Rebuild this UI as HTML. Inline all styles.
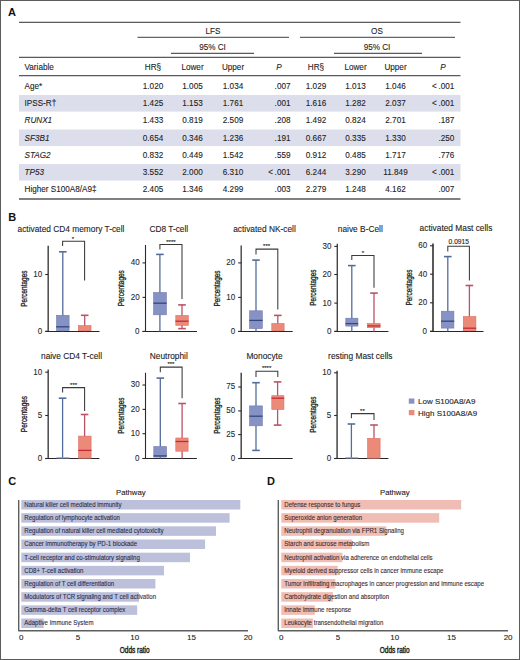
<!DOCTYPE html>
<html><head><meta charset="utf-8"><style>
html,body{margin:0;padding:0;background:#fff;}
svg{display:block;font-family:"Liberation Sans", sans-serif;}
</style></head><body>
<svg width="520" height="660" viewBox="0 0 520 660">
<rect x="0.5" y="0.5" width="519" height="659" fill="none" stroke="#5c5c5c" stroke-width="1"/>
<text x="8" y="16" font-size="11" text-anchor="start" fill="#111" font-weight="bold">A</text>
<line x1="19" y1="22.4" x2="460.5" y2="22.4" stroke="#5a5a5a" stroke-width="1.2"/>
<text transform="translate(213 33.6) scale(0.96 1)" font-size="8.5" text-anchor="middle" fill="#222"  stroke="#222" stroke-width="0.1">LFS</text>
<line x1="137.5" y1="37.4" x2="289" y2="37.4" stroke="#666" stroke-width="1.2"/>
<text transform="translate(377 33.6) scale(0.96 1)" font-size="8.5" text-anchor="middle" fill="#222"  stroke="#222" stroke-width="0.1">OS</text>
<line x1="300" y1="37.4" x2="455" y2="37.4" stroke="#666" stroke-width="1.2"/>
<text transform="translate(212.5 49.6) scale(0.96 1)" font-size="8.5" text-anchor="middle" fill="#222"  stroke="#222" stroke-width="0.1">95% CI</text>
<line x1="171" y1="53.4" x2="254" y2="53.4" stroke="#5a5a5a" stroke-width="1.2"/>
<text transform="translate(377 49.6) scale(0.96 1)" font-size="8.5" text-anchor="middle" fill="#222"  stroke="#222" stroke-width="0.1">95% CI</text>
<line x1="334" y1="53.4" x2="422" y2="53.4" stroke="#5a5a5a" stroke-width="1.2"/>
<line x1="19" y1="57.4" x2="460.5" y2="57.4" stroke="#5a5a5a" stroke-width="1.2"/>
<text transform="translate(24.5 69.8) scale(0.96 1)" font-size="8.5" text-anchor="start" fill="#222"  stroke="#222" stroke-width="0.1">Variable</text>
<text transform="translate(153 69.8) scale(0.96 1)" font-size="8.5" text-anchor="middle" fill="#222"  stroke="#222" stroke-width="0.1">HR§</text>
<text transform="translate(192.5 69.8) scale(0.96 1)" font-size="8.5" text-anchor="middle" fill="#222"  stroke="#222" stroke-width="0.1">Lower</text>
<text transform="translate(233 69.8) scale(0.96 1)" font-size="8.5" text-anchor="middle" fill="#222"  stroke="#222" stroke-width="0.1">Upper</text>
<text transform="translate(279 69.8) scale(0.96 1)" font-size="8.5" text-anchor="middle" fill="#222" font-style="italic" stroke="#222" stroke-width="0.1">P</text>
<text transform="translate(316 69.8) scale(0.96 1)" font-size="8.5" text-anchor="middle" fill="#222"  stroke="#222" stroke-width="0.1">HR§</text>
<text transform="translate(355.5 69.8) scale(0.96 1)" font-size="8.5" text-anchor="middle" fill="#222"  stroke="#222" stroke-width="0.1">Lower</text>
<text transform="translate(395.5 69.8) scale(0.96 1)" font-size="8.5" text-anchor="middle" fill="#222"  stroke="#222" stroke-width="0.1">Upper</text>
<text transform="translate(443 69.8) scale(0.96 1)" font-size="8.5" text-anchor="middle" fill="#222" font-style="italic" stroke="#222" stroke-width="0.1">P</text>
<line x1="19" y1="75.6" x2="460.5" y2="75.6" stroke="#5a5a5a" stroke-width="1.2"/>
<text transform="translate(24.5 88.95) scale(0.96 1)" font-size="8.5" text-anchor="start" fill="#222"  stroke="#222" stroke-width="0.1">Age*</text>
<text transform="translate(153 88.95) scale(0.96 1)" font-size="8.5" text-anchor="middle" fill="#222"  stroke="#222" stroke-width="0.1">1.020</text>
<text transform="translate(192.5 88.95) scale(0.96 1)" font-size="8.5" text-anchor="middle" fill="#222"  stroke="#222" stroke-width="0.1">1.005</text>
<text transform="translate(233 88.95) scale(0.96 1)" font-size="8.5" text-anchor="middle" fill="#222"  stroke="#222" stroke-width="0.1">1.034</text>
<text transform="translate(290.5 88.95) scale(0.96 1)" font-size="8.5" text-anchor="end" fill="#222"  stroke="#222" stroke-width="0.1">.007</text>
<text transform="translate(316 88.95) scale(0.96 1)" font-size="8.5" text-anchor="middle" fill="#222"  stroke="#222" stroke-width="0.1">1.029</text>
<text transform="translate(355.5 88.95) scale(0.96 1)" font-size="8.5" text-anchor="middle" fill="#222"  stroke="#222" stroke-width="0.1">1.013</text>
<text transform="translate(395.5 88.95) scale(0.96 1)" font-size="8.5" text-anchor="middle" fill="#222"  stroke="#222" stroke-width="0.1">1.046</text>
<text transform="translate(454.3 88.95) scale(0.96 1)" font-size="8.5" text-anchor="end" fill="#222"  stroke="#222" stroke-width="0.1">&lt; .001</text>
<rect x="19" y="95.0" width="441.5" height="16.6" fill="#dddeec"/>
<text transform="translate(24.5 106.2) scale(0.96 1)" font-size="8.5" text-anchor="start" fill="#222"  stroke="#222" stroke-width="0.1">IPSS-R†</text>
<text transform="translate(153 106.2) scale(0.96 1)" font-size="8.5" text-anchor="middle" fill="#222"  stroke="#222" stroke-width="0.1">1.425</text>
<text transform="translate(192.5 106.2) scale(0.96 1)" font-size="8.5" text-anchor="middle" fill="#222"  stroke="#222" stroke-width="0.1">1.153</text>
<text transform="translate(233 106.2) scale(0.96 1)" font-size="8.5" text-anchor="middle" fill="#222"  stroke="#222" stroke-width="0.1">1.761</text>
<text transform="translate(290.5 106.2) scale(0.96 1)" font-size="8.5" text-anchor="end" fill="#222"  stroke="#222" stroke-width="0.1">.001</text>
<text transform="translate(316 106.2) scale(0.96 1)" font-size="8.5" text-anchor="middle" fill="#222"  stroke="#222" stroke-width="0.1">1.616</text>
<text transform="translate(355.5 106.2) scale(0.96 1)" font-size="8.5" text-anchor="middle" fill="#222"  stroke="#222" stroke-width="0.1">1.282</text>
<text transform="translate(395.5 106.2) scale(0.96 1)" font-size="8.5" text-anchor="middle" fill="#222"  stroke="#222" stroke-width="0.1">2.037</text>
<text transform="translate(454.3 106.2) scale(0.96 1)" font-size="8.5" text-anchor="end" fill="#222"  stroke="#222" stroke-width="0.1">&lt; .001</text>
<text transform="translate(24.5 123.45) scale(0.96 1)" font-size="8.5" text-anchor="start" fill="#222" font-style="italic" stroke="#222" stroke-width="0.1">RUNX1</text>
<text transform="translate(153 123.45) scale(0.96 1)" font-size="8.5" text-anchor="middle" fill="#222"  stroke="#222" stroke-width="0.1">1.433</text>
<text transform="translate(192.5 123.45) scale(0.96 1)" font-size="8.5" text-anchor="middle" fill="#222"  stroke="#222" stroke-width="0.1">0.819</text>
<text transform="translate(233 123.45) scale(0.96 1)" font-size="8.5" text-anchor="middle" fill="#222"  stroke="#222" stroke-width="0.1">2.509</text>
<text transform="translate(290.5 123.45) scale(0.96 1)" font-size="8.5" text-anchor="end" fill="#222"  stroke="#222" stroke-width="0.1">.208</text>
<text transform="translate(316 123.45) scale(0.96 1)" font-size="8.5" text-anchor="middle" fill="#222"  stroke="#222" stroke-width="0.1">1.492</text>
<text transform="translate(355.5 123.45) scale(0.96 1)" font-size="8.5" text-anchor="middle" fill="#222"  stroke="#222" stroke-width="0.1">0.824</text>
<text transform="translate(395.5 123.45) scale(0.96 1)" font-size="8.5" text-anchor="middle" fill="#222"  stroke="#222" stroke-width="0.1">2.701</text>
<text transform="translate(454.3 123.45) scale(0.96 1)" font-size="8.5" text-anchor="end" fill="#222"  stroke="#222" stroke-width="0.1">.187</text>
<rect x="19" y="129.5" width="441.5" height="16.6" fill="#dddeec"/>
<text transform="translate(24.5 140.7) scale(0.96 1)" font-size="8.5" text-anchor="start" fill="#222" font-style="italic" stroke="#222" stroke-width="0.1">SF3B1</text>
<text transform="translate(153 140.7) scale(0.96 1)" font-size="8.5" text-anchor="middle" fill="#222"  stroke="#222" stroke-width="0.1">0.654</text>
<text transform="translate(192.5 140.7) scale(0.96 1)" font-size="8.5" text-anchor="middle" fill="#222"  stroke="#222" stroke-width="0.1">0.346</text>
<text transform="translate(233 140.7) scale(0.96 1)" font-size="8.5" text-anchor="middle" fill="#222"  stroke="#222" stroke-width="0.1">1.236</text>
<text transform="translate(290.5 140.7) scale(0.96 1)" font-size="8.5" text-anchor="end" fill="#222"  stroke="#222" stroke-width="0.1">.191</text>
<text transform="translate(316 140.7) scale(0.96 1)" font-size="8.5" text-anchor="middle" fill="#222"  stroke="#222" stroke-width="0.1">0.667</text>
<text transform="translate(355.5 140.7) scale(0.96 1)" font-size="8.5" text-anchor="middle" fill="#222"  stroke="#222" stroke-width="0.1">0.335</text>
<text transform="translate(395.5 140.7) scale(0.96 1)" font-size="8.5" text-anchor="middle" fill="#222"  stroke="#222" stroke-width="0.1">1.330</text>
<text transform="translate(454.3 140.7) scale(0.96 1)" font-size="8.5" text-anchor="end" fill="#222"  stroke="#222" stroke-width="0.1">.250</text>
<text transform="translate(24.5 157.95) scale(0.96 1)" font-size="8.5" text-anchor="start" fill="#222" font-style="italic" stroke="#222" stroke-width="0.1">STAG2</text>
<text transform="translate(153 157.95) scale(0.96 1)" font-size="8.5" text-anchor="middle" fill="#222"  stroke="#222" stroke-width="0.1">0.832</text>
<text transform="translate(192.5 157.95) scale(0.96 1)" font-size="8.5" text-anchor="middle" fill="#222"  stroke="#222" stroke-width="0.1">0.449</text>
<text transform="translate(233 157.95) scale(0.96 1)" font-size="8.5" text-anchor="middle" fill="#222"  stroke="#222" stroke-width="0.1">1.542</text>
<text transform="translate(290.5 157.95) scale(0.96 1)" font-size="8.5" text-anchor="end" fill="#222"  stroke="#222" stroke-width="0.1">.559</text>
<text transform="translate(316 157.95) scale(0.96 1)" font-size="8.5" text-anchor="middle" fill="#222"  stroke="#222" stroke-width="0.1">0.912</text>
<text transform="translate(355.5 157.95) scale(0.96 1)" font-size="8.5" text-anchor="middle" fill="#222"  stroke="#222" stroke-width="0.1">0.485</text>
<text transform="translate(395.5 157.95) scale(0.96 1)" font-size="8.5" text-anchor="middle" fill="#222"  stroke="#222" stroke-width="0.1">1.717</text>
<text transform="translate(454.3 157.95) scale(0.96 1)" font-size="8.5" text-anchor="end" fill="#222"  stroke="#222" stroke-width="0.1">.776</text>
<rect x="19" y="164.0" width="441.5" height="16.6" fill="#dddeec"/>
<text transform="translate(24.5 175.2) scale(0.96 1)" font-size="8.5" text-anchor="start" fill="#222" font-style="italic" stroke="#222" stroke-width="0.1">TP53</text>
<text transform="translate(153 175.2) scale(0.96 1)" font-size="8.5" text-anchor="middle" fill="#222"  stroke="#222" stroke-width="0.1">3.552</text>
<text transform="translate(192.5 175.2) scale(0.96 1)" font-size="8.5" text-anchor="middle" fill="#222"  stroke="#222" stroke-width="0.1">2.000</text>
<text transform="translate(233 175.2) scale(0.96 1)" font-size="8.5" text-anchor="middle" fill="#222"  stroke="#222" stroke-width="0.1">6.310</text>
<text transform="translate(290.5 175.2) scale(0.96 1)" font-size="8.5" text-anchor="end" fill="#222"  stroke="#222" stroke-width="0.1">&lt; .001</text>
<text transform="translate(316 175.2) scale(0.96 1)" font-size="8.5" text-anchor="middle" fill="#222"  stroke="#222" stroke-width="0.1">6.244</text>
<text transform="translate(355.5 175.2) scale(0.96 1)" font-size="8.5" text-anchor="middle" fill="#222"  stroke="#222" stroke-width="0.1">3.290</text>
<text transform="translate(395.5 175.2) scale(0.96 1)" font-size="8.5" text-anchor="middle" fill="#222"  stroke="#222" stroke-width="0.1">11.849</text>
<text transform="translate(454.3 175.2) scale(0.96 1)" font-size="8.5" text-anchor="end" fill="#222"  stroke="#222" stroke-width="0.1">&lt; .001</text>
<text transform="translate(24.5 192.45) scale(0.96 1)" font-size="8.5" text-anchor="start" fill="#222"  stroke="#222" stroke-width="0.1">Higher S100A8/A9‡</text>
<text transform="translate(153 192.45) scale(0.96 1)" font-size="8.5" text-anchor="middle" fill="#222"  stroke="#222" stroke-width="0.1">2.405</text>
<text transform="translate(192.5 192.45) scale(0.96 1)" font-size="8.5" text-anchor="middle" fill="#222"  stroke="#222" stroke-width="0.1">1.346</text>
<text transform="translate(233 192.45) scale(0.96 1)" font-size="8.5" text-anchor="middle" fill="#222"  stroke="#222" stroke-width="0.1">4.299</text>
<text transform="translate(290.5 192.45) scale(0.96 1)" font-size="8.5" text-anchor="end" fill="#222"  stroke="#222" stroke-width="0.1">.003</text>
<text transform="translate(316 192.45) scale(0.96 1)" font-size="8.5" text-anchor="middle" fill="#222"  stroke="#222" stroke-width="0.1">2.279</text>
<text transform="translate(355.5 192.45) scale(0.96 1)" font-size="8.5" text-anchor="middle" fill="#222"  stroke="#222" stroke-width="0.1">1.248</text>
<text transform="translate(395.5 192.45) scale(0.96 1)" font-size="8.5" text-anchor="middle" fill="#222"  stroke="#222" stroke-width="0.1">4.162</text>
<text transform="translate(454.3 192.45) scale(0.96 1)" font-size="8.5" text-anchor="end" fill="#222"  stroke="#222" stroke-width="0.1">.007</text>
<line x1="19" y1="199.0" x2="460.5" y2="199.0" stroke="#808080" stroke-width="2"/>
<text x="8.2" y="220.6" font-size="11" text-anchor="start" fill="#111" font-weight="bold">B</text>
<text transform="translate(71 231.8) scale(0.97 1)" font-size="8.6" text-anchor="middle" fill="#222"  stroke="#222" stroke-width="0.1">activated CD4 memory T-cell</text>
<text transform="translate(26.700000000000003,288.625) rotate(-90) scale(0.76,1)" x="0" y="0" font-size="8.5" text-anchor="middle" fill="#222" stroke="#222" stroke-width="0.3">Percentages</text>
<line x1="48.2" y1="245.75" x2="48.2" y2="332.0" stroke="#4a4a4a" stroke-width="1.5"/>
<line x1="45.2" y1="331.5" x2="99.5" y2="331.5" stroke="#262626" stroke-width="1.15"/>
<line x1="45.2" y1="331.3" x2="48.2" y2="331.3" stroke="#2a2a2a" stroke-width="1.1"/>
<text transform="translate(42.300000000000004 333.75) scale(0.97 1)" font-size="8.3" text-anchor="end" fill="#2a2a2a"  stroke="#2a2a2a" stroke-width="0.1">0</text>
<line x1="45.2" y1="274.5" x2="48.2" y2="274.5" stroke="#2a2a2a" stroke-width="1.1"/>
<text transform="translate(42.300000000000004 276.95) scale(0.97 1)" font-size="8.3" text-anchor="end" fill="#2a2a2a"  stroke="#2a2a2a" stroke-width="0.1">10</text>
<line x1="62.8" y1="251.8" x2="62.8" y2="331.5" stroke="#546c9c" stroke-width="1.3"/>
<line x1="59.0" y1="251.8" x2="66.6" y2="251.8" stroke="#546c9c" stroke-width="1.6"/>
<rect x="56.5" y="315.3" width="12.600000000000003" height="15.4" fill="#8692c4" stroke="#6f7cb0" stroke-width="0.6"/>
<line x1="56.2" y1="326.8" x2="69.4" y2="326.8" stroke="#34487e" stroke-width="1.3"/>
<line x1="84.7" y1="315.3" x2="84.7" y2="331.5" stroke="#bb5366" stroke-width="1.3"/>
<line x1="80.9" y1="315.3" x2="88.5" y2="315.3" stroke="#bb5366" stroke-width="1.6"/>
<rect x="78.3" y="325.6" width="12.699999999999998" height="5.099999999999989" fill="#ec8a79" stroke="#dc6e60" stroke-width="0.6"/>
<polyline points="62.6,246 62.6,241.25 84.6,241.25 84.6,280.5" fill="none" stroke="#3a3a3a" stroke-width="1.05"/>
<text x="73" y="240.5" font-size="6" text-anchor="middle" fill="#222"  stroke="#222" stroke-width="0.1">*</text>
<text transform="translate(168.8 231.8) scale(0.97 1)" font-size="8.6" text-anchor="middle" fill="#222"  stroke="#222" stroke-width="0.1">CD8 T-cell</text>
<text transform="translate(124.0,288.25) rotate(-90) scale(0.76,1)" x="0" y="0" font-size="8.5" text-anchor="middle" fill="#222" stroke="#222" stroke-width="0.3">Percentages</text>
<line x1="145.5" y1="245" x2="145.5" y2="332.0" stroke="#2a2a2a" stroke-width="1.1"/>
<line x1="142.5" y1="331.5" x2="197" y2="331.5" stroke="#262626" stroke-width="1.15"/>
<line x1="142.5" y1="331.4" x2="145.5" y2="331.4" stroke="#2a2a2a" stroke-width="1.1"/>
<text transform="translate(139.6 333.84999999999997) scale(0.97 1)" font-size="8.3" text-anchor="end" fill="#2a2a2a"  stroke="#2a2a2a" stroke-width="0.1">0</text>
<line x1="142.5" y1="297.4" x2="145.5" y2="297.4" stroke="#2a2a2a" stroke-width="1.1"/>
<text transform="translate(139.6 299.84999999999997) scale(0.97 1)" font-size="8.3" text-anchor="end" fill="#2a2a2a"  stroke="#2a2a2a" stroke-width="0.1">20</text>
<line x1="142.5" y1="262.9" x2="145.5" y2="262.9" stroke="#2a2a2a" stroke-width="1.1"/>
<text transform="translate(139.6 265.34999999999997) scale(0.97 1)" font-size="8.3" text-anchor="end" fill="#2a2a2a"  stroke="#2a2a2a" stroke-width="0.1">40</text>
<line x1="159.9" y1="254.4" x2="159.9" y2="331.5" stroke="#546c9c" stroke-width="1.3"/>
<line x1="156.1" y1="254.4" x2="163.70000000000002" y2="254.4" stroke="#546c9c" stroke-width="1.6"/>
<rect x="153.60000000000002" y="292.5" width="12.799999999999978" height="22.300000000000033" fill="#8692c4" stroke="#6f7cb0" stroke-width="0.6"/>
<line x1="153.3" y1="303.2" x2="166.7" y2="303.2" stroke="#34487e" stroke-width="1.3"/>
<line x1="182" y1="304.9" x2="182" y2="328.6" stroke="#bb5366" stroke-width="1.3"/>
<line x1="178.2" y1="304.9" x2="185.8" y2="304.9" stroke="#bb5366" stroke-width="1.6"/>
<line x1="178.2" y1="328.6" x2="185.8" y2="328.6" stroke="#bb5366" stroke-width="1.6"/>
<rect x="175.8" y="315.5" width="12.499999999999995" height="9.800000000000034" fill="#ec8a79" stroke="#dc6e60" stroke-width="0.6"/>
<line x1="175.5" y1="321.2" x2="188.6" y2="321.2" stroke="#c62a36" stroke-width="1.3"/>
<polyline points="159.9,249.6 159.9,244.5 182,244.5 182,299" fill="none" stroke="#3a3a3a" stroke-width="1.05"/>
<text x="170.9" y="243.8" font-size="6" text-anchor="middle" fill="#222"  stroke="#222" stroke-width="0.1">****</text>
<text transform="translate(264.5 231.8) scale(0.97 1)" font-size="8.6" text-anchor="middle" fill="#222"  stroke="#222" stroke-width="0.1">activated NK-cell</text>
<text transform="translate(219.7,288.5) rotate(-90) scale(0.76,1)" x="0" y="0" font-size="8.5" text-anchor="middle" fill="#222" stroke="#222" stroke-width="0.3">Percentages</text>
<line x1="241.2" y1="245.5" x2="241.2" y2="332.0" stroke="#444" stroke-width="1.4"/>
<line x1="238.2" y1="331.5" x2="292.7" y2="331.5" stroke="#262626" stroke-width="1.15"/>
<line x1="238.2" y1="331.4" x2="241.2" y2="331.4" stroke="#2a2a2a" stroke-width="1.1"/>
<text transform="translate(235.29999999999998 333.84999999999997) scale(0.97 1)" font-size="8.3" text-anchor="end" fill="#2a2a2a"  stroke="#2a2a2a" stroke-width="0.1">0</text>
<line x1="238.2" y1="297.4" x2="241.2" y2="297.4" stroke="#2a2a2a" stroke-width="1.1"/>
<text transform="translate(235.29999999999998 299.84999999999997) scale(0.97 1)" font-size="8.3" text-anchor="end" fill="#2a2a2a"  stroke="#2a2a2a" stroke-width="0.1">10</text>
<line x1="238.2" y1="262.9" x2="241.2" y2="262.9" stroke="#2a2a2a" stroke-width="1.1"/>
<text transform="translate(235.29999999999998 265.34999999999997) scale(0.97 1)" font-size="8.3" text-anchor="end" fill="#2a2a2a"  stroke="#2a2a2a" stroke-width="0.1">20</text>
<line x1="256" y1="260.1" x2="256" y2="331.5" stroke="#546c9c" stroke-width="1.3"/>
<line x1="252.2" y1="260.1" x2="259.8" y2="260.1" stroke="#546c9c" stroke-width="1.6"/>
<rect x="249.60000000000002" y="310.8" width="12.700000000000012" height="17.799999999999976" fill="#8692c4" stroke="#6f7cb0" stroke-width="0.6"/>
<line x1="249.3" y1="320.4" x2="262.6" y2="320.4" stroke="#34487e" stroke-width="1.3"/>
<line x1="277.8" y1="315.4" x2="277.8" y2="331.5" stroke="#bb5366" stroke-width="1.3"/>
<line x1="274.0" y1="315.4" x2="281.6" y2="315.4" stroke="#bb5366" stroke-width="1.6"/>
<rect x="271.8" y="323.5" width="12.299999999999978" height="7.200000000000012" fill="#ec8a79" stroke="#dc6e60" stroke-width="0.6"/>
<polyline points="256,254.4 256,249.1 277.8,249.1 277.8,309.4" fill="none" stroke="#3a3a3a" stroke-width="1.05"/>
<text x="266.6" y="248.0" font-size="6" text-anchor="middle" fill="#222"  stroke="#222" stroke-width="0.1">***</text>
<text transform="translate(360.3 231.8) scale(0.97 1)" font-size="8.6" text-anchor="middle" fill="#222"  stroke="#222" stroke-width="0.1">naive B-Cell</text>
<text transform="translate(315.8,287.65) rotate(-90) scale(0.76,1)" x="0" y="0" font-size="8.5" text-anchor="middle" fill="#222" stroke="#222" stroke-width="0.3">Percentages</text>
<line x1="337.3" y1="243.8" x2="337.3" y2="332.0" stroke="#444" stroke-width="1.4"/>
<line x1="334.3" y1="331.5" x2="388.4" y2="331.5" stroke="#262626" stroke-width="1.15"/>
<line x1="334.3" y1="331.3" x2="337.3" y2="331.3" stroke="#2a2a2a" stroke-width="1.1"/>
<text transform="translate(331.40000000000003 333.75) scale(0.97 1)" font-size="8.3" text-anchor="end" fill="#2a2a2a"  stroke="#2a2a2a" stroke-width="0.1">0</text>
<line x1="334.3" y1="303.1" x2="337.3" y2="303.1" stroke="#2a2a2a" stroke-width="1.1"/>
<text transform="translate(331.40000000000003 305.55) scale(0.97 1)" font-size="8.3" text-anchor="end" fill="#2a2a2a"  stroke="#2a2a2a" stroke-width="0.1">10</text>
<line x1="334.3" y1="274.5" x2="337.3" y2="274.5" stroke="#2a2a2a" stroke-width="1.1"/>
<text transform="translate(331.40000000000003 276.95) scale(0.97 1)" font-size="8.3" text-anchor="end" fill="#2a2a2a"  stroke="#2a2a2a" stroke-width="0.1">20</text>
<line x1="334.3" y1="246.4" x2="337.3" y2="246.4" stroke="#2a2a2a" stroke-width="1.1"/>
<text transform="translate(331.40000000000003 248.85) scale(0.97 1)" font-size="8.3" text-anchor="end" fill="#2a2a2a"  stroke="#2a2a2a" stroke-width="0.1">30</text>
<line x1="351.8" y1="265.6" x2="351.8" y2="331.5" stroke="#546c9c" stroke-width="1.3"/>
<line x1="348.0" y1="265.6" x2="355.6" y2="265.6" stroke="#546c9c" stroke-width="1.6"/>
<rect x="345.8" y="318.2" width="12.099999999999989" height="7.9" fill="#8692c4" stroke="#6f7cb0" stroke-width="0.6"/>
<line x1="345.5" y1="323.6" x2="358.2" y2="323.6" stroke="#34487e" stroke-width="1.3"/>
<line x1="374" y1="293.1" x2="374" y2="331.5" stroke="#bb5366" stroke-width="1.3"/>
<line x1="370.2" y1="293.1" x2="377.8" y2="293.1" stroke="#bb5366" stroke-width="1.6"/>
<rect x="367.6" y="323.5" width="12.499999999999966" height="4.200000000000012" fill="#ec8a79" stroke="#dc6e60" stroke-width="0.6"/>
<line x1="367.3" y1="325.9" x2="380.4" y2="325.9" stroke="#c62a36" stroke-width="1.3"/>
<polyline points="351.8,260 351.8,255.5 374,255.5 374,287.8" fill="none" stroke="#3a3a3a" stroke-width="1.05"/>
<text x="362.8" y="254.9" font-size="6" text-anchor="middle" fill="#222"  stroke="#222" stroke-width="0.1">*</text>
<text transform="translate(456 231.3) scale(0.97 1)" font-size="8.6" text-anchor="middle" fill="#222"  stroke="#222" stroke-width="0.1">activated Mast cells</text>
<text transform="translate(411.5,287.5) rotate(-90) scale(0.76,1)" x="0" y="0" font-size="8.5" text-anchor="middle" fill="#222" stroke="#222" stroke-width="0.3">Percentages</text>
<line x1="433.0" y1="243.5" x2="433.0" y2="332.0" stroke="#5a5a5a" stroke-width="2.0"/>
<line x1="430.0" y1="331.5" x2="483.5" y2="331.5" stroke="#262626" stroke-width="1.15"/>
<line x1="430.0" y1="331.2" x2="433.0" y2="331.2" stroke="#2a2a2a" stroke-width="1.1"/>
<text transform="translate(427.1 333.65) scale(0.97 1)" font-size="8.3" text-anchor="end" fill="#2a2a2a"  stroke="#2a2a2a" stroke-width="0.1">0</text>
<line x1="430.0" y1="302.8" x2="433.0" y2="302.8" stroke="#2a2a2a" stroke-width="1.1"/>
<text transform="translate(427.1 305.25) scale(0.97 1)" font-size="8.3" text-anchor="end" fill="#2a2a2a"  stroke="#2a2a2a" stroke-width="0.1">20</text>
<line x1="430.0" y1="274.2" x2="433.0" y2="274.2" stroke="#2a2a2a" stroke-width="1.1"/>
<text transform="translate(427.1 276.65) scale(0.97 1)" font-size="8.3" text-anchor="end" fill="#2a2a2a"  stroke="#2a2a2a" stroke-width="0.1">40</text>
<line x1="430.0" y1="245.8" x2="433.0" y2="245.8" stroke="#2a2a2a" stroke-width="1.1"/>
<text transform="translate(427.1 248.25) scale(0.97 1)" font-size="8.3" text-anchor="end" fill="#2a2a2a"  stroke="#2a2a2a" stroke-width="0.1">60</text>
<line x1="447.8" y1="256.6" x2="447.8" y2="331.5" stroke="#546c9c" stroke-width="1.3"/>
<line x1="444.0" y1="256.6" x2="451.6" y2="256.6" stroke="#546c9c" stroke-width="1.6"/>
<rect x="441.3" y="311.2" width="12.599999999999989" height="16.9" fill="#8692c4" stroke="#6f7cb0" stroke-width="0.6"/>
<line x1="441" y1="321.2" x2="454.2" y2="321.2" stroke="#34487e" stroke-width="1.3"/>
<line x1="469.4" y1="285.5" x2="469.4" y2="331.5" stroke="#bb5366" stroke-width="1.3"/>
<line x1="465.59999999999997" y1="285.5" x2="473.2" y2="285.5" stroke="#bb5366" stroke-width="1.6"/>
<rect x="463.3" y="316.5" width="12.599999999999989" height="14.200000000000012" fill="#ec8a79" stroke="#dc6e60" stroke-width="0.6"/>
<line x1="463" y1="328.2" x2="476.2" y2="328.2" stroke="#c62a36" stroke-width="1.3"/>
<polyline points="447.8,251.5 447.8,246.2 469.4,246.2 469.4,280.4" fill="none" stroke="#3a3a3a" stroke-width="1.05"/>
<text transform="translate(458.8 243.7) scale(1.03 1)" font-size="6.5" text-anchor="middle" fill="#222"  stroke="#222" stroke-width="0.1">0.0915</text>
<text transform="translate(71.5 358.7) scale(0.97 1)" font-size="8.6" text-anchor="middle" fill="#222"  stroke="#222" stroke-width="0.1">naive CD4 T-cell</text>
<text transform="translate(26.700000000000003,414.05) rotate(-90) scale(0.76,1)" x="0" y="0" font-size="8.5" text-anchor="middle" fill="#222" stroke="#222" stroke-width="0.3">Percentages</text>
<line x1="48.2" y1="369.6" x2="48.2" y2="459.0" stroke="#4a4a4a" stroke-width="1.5"/>
<line x1="45.2" y1="458.5" x2="99.4" y2="458.5" stroke="#262626" stroke-width="1.15"/>
<line x1="45.2" y1="458.5" x2="48.2" y2="458.5" stroke="#2a2a2a" stroke-width="1.1"/>
<text transform="translate(42.300000000000004 460.95) scale(0.97 1)" font-size="8.3" text-anchor="end" fill="#2a2a2a"  stroke="#2a2a2a" stroke-width="0.1">0</text>
<line x1="45.2" y1="415.5" x2="48.2" y2="415.5" stroke="#2a2a2a" stroke-width="1.1"/>
<text transform="translate(42.300000000000004 417.95) scale(0.97 1)" font-size="8.3" text-anchor="end" fill="#2a2a2a"  stroke="#2a2a2a" stroke-width="0.1">5</text>
<line x1="45.2" y1="372.2" x2="48.2" y2="372.2" stroke="#2a2a2a" stroke-width="1.1"/>
<text transform="translate(42.300000000000004 374.65) scale(0.97 1)" font-size="8.3" text-anchor="end" fill="#2a2a2a"  stroke="#2a2a2a" stroke-width="0.1">10</text>
<line x1="62.6" y1="398.2" x2="62.6" y2="458.5" stroke="#546c9c" stroke-width="1.3"/>
<line x1="58.800000000000004" y1="398.2" x2="66.4" y2="398.2" stroke="#546c9c" stroke-width="1.6"/>
<rect x="56.5" y="457.3" width="13.0" height="1.1999999999999886" fill="#8692c4"/>
<line x1="84.6" y1="414.5" x2="84.6" y2="458.5" stroke="#bb5366" stroke-width="1.3"/>
<line x1="80.8" y1="414.5" x2="88.39999999999999" y2="414.5" stroke="#bb5366" stroke-width="1.6"/>
<rect x="78.6" y="436.1" width="12.500000000000009" height="22.099999999999987" fill="#ec8a79" stroke="#dc6e60" stroke-width="0.6"/>
<line x1="78.3" y1="450.4" x2="91.4" y2="450.4" stroke="#c62a36" stroke-width="1.3"/>
<polyline points="62.6,392.5 62.6,387.6 84.6,387.6 84.6,410.9" fill="none" stroke="#3a3a3a" stroke-width="1.05"/>
<text x="73.6" y="386.9" font-size="6" text-anchor="middle" fill="#222"  stroke="#222" stroke-width="0.1">***</text>
<text transform="translate(168.8 358.7) scale(0.97 1)" font-size="8.6" text-anchor="middle" fill="#222"  stroke="#222" stroke-width="0.1">Neutrophil</text>
<text transform="translate(124.0,415.65) rotate(-90) scale(0.76,1)" x="0" y="0" font-size="8.5" text-anchor="middle" fill="#222" stroke="#222" stroke-width="0.3">Percentages</text>
<line x1="145.5" y1="372.8" x2="145.5" y2="459.0" stroke="#2a2a2a" stroke-width="1.1"/>
<line x1="142.5" y1="458.5" x2="196.9" y2="458.5" stroke="#262626" stroke-width="1.15"/>
<line x1="142.5" y1="458.5" x2="145.5" y2="458.5" stroke="#2a2a2a" stroke-width="1.1"/>
<text transform="translate(139.6 460.95) scale(0.97 1)" font-size="8.3" text-anchor="end" fill="#2a2a2a"  stroke="#2a2a2a" stroke-width="0.1">0</text>
<line x1="142.5" y1="433.7" x2="145.5" y2="433.7" stroke="#2a2a2a" stroke-width="1.1"/>
<text transform="translate(139.6 436.15) scale(0.97 1)" font-size="8.3" text-anchor="end" fill="#2a2a2a"  stroke="#2a2a2a" stroke-width="0.1">10</text>
<line x1="142.5" y1="409.4" x2="145.5" y2="409.4" stroke="#2a2a2a" stroke-width="1.1"/>
<text transform="translate(139.6 411.84999999999997) scale(0.97 1)" font-size="8.3" text-anchor="end" fill="#2a2a2a"  stroke="#2a2a2a" stroke-width="0.1">20</text>
<line x1="142.5" y1="385" x2="145.5" y2="385" stroke="#2a2a2a" stroke-width="1.1"/>
<text transform="translate(139.6 387.45) scale(0.97 1)" font-size="8.3" text-anchor="end" fill="#2a2a2a"  stroke="#2a2a2a" stroke-width="0.1">30</text>
<line x1="160.3" y1="378.1" x2="160.3" y2="458.5" stroke="#546c9c" stroke-width="1.3"/>
<line x1="156.5" y1="378.1" x2="164.10000000000002" y2="378.1" stroke="#546c9c" stroke-width="1.6"/>
<rect x="153.8" y="446.5" width="12.700000000000012" height="10.599999999999989" fill="#8692c4" stroke="#6f7cb0" stroke-width="0.6"/>
<line x1="153.5" y1="455.9" x2="166.8" y2="455.9" stroke="#34487e" stroke-width="1.3"/>
<line x1="182.1" y1="403.5" x2="182.1" y2="458.5" stroke="#bb5366" stroke-width="1.3"/>
<line x1="178.29999999999998" y1="403.5" x2="185.9" y2="403.5" stroke="#bb5366" stroke-width="1.6"/>
<rect x="175.8" y="438.0" width="12.300000000000006" height="13.200000000000012" fill="#ec8a79" stroke="#dc6e60" stroke-width="0.6"/>
<line x1="175.5" y1="441.5" x2="188.4" y2="441.5" stroke="#c62a36" stroke-width="1.3"/>
<polyline points="160.3,372.2 160.3,367.1 182.1,367.1 182.1,398.2" fill="none" stroke="#3a3a3a" stroke-width="1.05"/>
<text x="170.9" y="366.4" font-size="6" text-anchor="middle" fill="#222"  stroke="#222" stroke-width="0.1">***</text>
<text transform="translate(264.5 358.7) scale(0.97 1)" font-size="8.6" text-anchor="middle" fill="#222"  stroke="#222" stroke-width="0.1">Monocyte</text>
<text transform="translate(219.7,415.65) rotate(-90) scale(0.76,1)" x="0" y="0" font-size="8.5" text-anchor="middle" fill="#222" stroke="#222" stroke-width="0.3">Percentages</text>
<line x1="241.2" y1="372.8" x2="241.2" y2="459.0" stroke="#464640" stroke-width="1.5"/>
<line x1="238.2" y1="458.5" x2="292.7" y2="458.5" stroke="#262626" stroke-width="1.15"/>
<line x1="238.2" y1="458.5" x2="241.2" y2="458.5" stroke="#2a2a2a" stroke-width="1.1"/>
<text transform="translate(235.29999999999998 460.95) scale(0.97 1)" font-size="8.3" text-anchor="end" fill="#2a2a2a"  stroke="#2a2a2a" stroke-width="0.1">0</text>
<line x1="238.2" y1="434.6" x2="241.2" y2="434.6" stroke="#2a2a2a" stroke-width="1.1"/>
<text transform="translate(235.29999999999998 437.05) scale(0.97 1)" font-size="8.3" text-anchor="end" fill="#2a2a2a"  stroke="#2a2a2a" stroke-width="0.1">25</text>
<line x1="238.2" y1="410.9" x2="241.2" y2="410.9" stroke="#2a2a2a" stroke-width="1.1"/>
<text transform="translate(235.29999999999998 413.34999999999997) scale(0.97 1)" font-size="8.3" text-anchor="end" fill="#2a2a2a"  stroke="#2a2a2a" stroke-width="0.1">50</text>
<line x1="238.2" y1="387" x2="241.2" y2="387" stroke="#2a2a2a" stroke-width="1.1"/>
<text transform="translate(235.29999999999998 389.45) scale(0.97 1)" font-size="8.3" text-anchor="end" fill="#2a2a2a"  stroke="#2a2a2a" stroke-width="0.1">75</text>
<line x1="256" y1="382.7" x2="256" y2="450.4" stroke="#546c9c" stroke-width="1.3"/>
<line x1="252.2" y1="382.7" x2="259.8" y2="382.7" stroke="#546c9c" stroke-width="1.6"/>
<line x1="252.2" y1="450.4" x2="259.8" y2="450.4" stroke="#546c9c" stroke-width="1.6"/>
<rect x="249.60000000000002" y="405.90000000000003" width="12.700000000000012" height="19.9" fill="#8692c4" stroke="#6f7cb0" stroke-width="0.6"/>
<line x1="249.3" y1="416.2" x2="262.6" y2="416.2" stroke="#34487e" stroke-width="1.3"/>
<line x1="277.6" y1="381.9" x2="277.6" y2="425.1" stroke="#bb5366" stroke-width="1.3"/>
<line x1="273.8" y1="381.9" x2="281.40000000000003" y2="381.9" stroke="#bb5366" stroke-width="1.6"/>
<line x1="273.8" y1="425.1" x2="281.40000000000003" y2="425.1" stroke="#bb5366" stroke-width="1.6"/>
<rect x="271.8" y="395.7" width="12.099999999999989" height="13.800000000000034" fill="#ec8a79" stroke="#dc6e60" stroke-width="0.6"/>
<line x1="271.5" y1="398.2" x2="284.2" y2="398.2" stroke="#c62a36" stroke-width="1.3"/>
<polyline points="256,377 256,371.3 277.8,371.3 277.8,377" fill="none" stroke="#3a3a3a" stroke-width="1.05"/>
<text x="266.6" y="370.0" font-size="6" text-anchor="middle" fill="#222"  stroke="#222" stroke-width="0.1">****</text>
<text transform="translate(360.3 358.7) scale(0.97 1)" font-size="8.6" text-anchor="middle" fill="#222"  stroke="#222" stroke-width="0.1">resting Mast cells</text>
<text transform="translate(315.6,414.6) rotate(-90) scale(0.76,1)" x="0" y="0" font-size="8.5" text-anchor="middle" fill="#222" stroke="#222" stroke-width="0.3">Percentages</text>
<line x1="337.1" y1="370.7" x2="337.1" y2="459.0" stroke="#5a5a5a" stroke-width="1.7"/>
<line x1="334.1" y1="458.5" x2="388.4" y2="458.5" stroke="#262626" stroke-width="1.15"/>
<line x1="334.1" y1="458.5" x2="337.1" y2="458.5" stroke="#2a2a2a" stroke-width="1.1"/>
<text transform="translate(331.20000000000005 460.95) scale(0.97 1)" font-size="8.3" text-anchor="end" fill="#2a2a2a"  stroke="#2a2a2a" stroke-width="0.1">0</text>
<line x1="334.1" y1="415.5" x2="337.1" y2="415.5" stroke="#2a2a2a" stroke-width="1.1"/>
<text transform="translate(331.20000000000005 417.95) scale(0.97 1)" font-size="8.3" text-anchor="end" fill="#2a2a2a"  stroke="#2a2a2a" stroke-width="0.1">5</text>
<line x1="334.1" y1="372.8" x2="337.1" y2="372.8" stroke="#2a2a2a" stroke-width="1.1"/>
<text transform="translate(331.20000000000005 375.25) scale(0.97 1)" font-size="8.3" text-anchor="end" fill="#2a2a2a"  stroke="#2a2a2a" stroke-width="0.1">10</text>
<line x1="351.4" y1="424" x2="351.4" y2="458.5" stroke="#546c9c" stroke-width="1.3"/>
<line x1="347.59999999999997" y1="424" x2="355.2" y2="424" stroke="#546c9c" stroke-width="1.6"/>
<rect x="345.3" y="457.3" width="12.699999999999989" height="1.1999999999999886" fill="#8692c4"/>
<line x1="374" y1="425" x2="374" y2="458.5" stroke="#bb5366" stroke-width="1.3"/>
<line x1="370.2" y1="425" x2="377.8" y2="425" stroke="#bb5366" stroke-width="1.6"/>
<rect x="367.6" y="438.3" width="12.499999999999966" height="19.9" fill="#ec8a79" stroke="#dc6e60" stroke-width="0.6"/>
<polyline points="351.4,418.3 351.4,413.6 374,413.6 374,420" fill="none" stroke="#3a3a3a" stroke-width="1.05"/>
<text x="362.4" y="412.9" font-size="6" text-anchor="middle" fill="#222"  stroke="#222" stroke-width="0.1">**</text>
<rect x="408.8" y="398.5" width="5.6" height="5.2" fill="#8692c4"/>
<text x="418" y="404.1" font-size="8" text-anchor="start" fill="#222"  stroke="#222" stroke-width="0.1">Low S100A8/A9</text>
<rect x="408.8" y="410" width="5.6" height="5.2" fill="#ec8a79"/>
<text x="418" y="415.7" font-size="8" text-anchor="start" fill="#222"  stroke="#222" stroke-width="0.1">High S100A8/A9</text>
<text x="8.2" y="485.2" font-size="11" text-anchor="start" fill="#111" font-weight="bold">C</text>
<text x="130.8" y="495" font-size="7.7" text-anchor="middle" fill="#222"  stroke="#222" stroke-width="0.1">Pathway</text>
<rect x="21.3" y="500.0" width="219.0" height="9.5" fill="#bcc0da"/>
<text transform="translate(24.3 506.85) scale(0.87 1)" font-size="7.0" text-anchor="start" fill="#2a2c4a"  stroke="#2a2c4a" stroke-width="0.1">Natural killer cell mediated immunity</text>
<rect x="21.3" y="513.17" width="208.29999999999998" height="9.5" fill="#bcc0da"/>
<text transform="translate(24.3 520.02) scale(0.87 1)" font-size="7.0" text-anchor="start" fill="#2a2c4a"  stroke="#2a2c4a" stroke-width="0.1">Regulation of lymphocyte activation</text>
<rect x="21.3" y="526.34" width="194.7" height="9.5" fill="#bcc0da"/>
<text transform="translate(24.3 533.19) scale(0.87 1)" font-size="7.0" text-anchor="start" fill="#2a2c4a"  stroke="#2a2c4a" stroke-width="0.1">Regulation of natural killer cell mediated cytotoxicity</text>
<rect x="21.3" y="539.51" width="183.79999999999998" height="9.5" fill="#bcc0da"/>
<text transform="translate(24.3 546.36) scale(0.87 1)" font-size="7.0" text-anchor="start" fill="#2a2c4a"  stroke="#2a2c4a" stroke-width="0.1">Cancer immunotherapy by PD-1 blockade</text>
<rect x="21.3" y="552.68" width="168.7" height="9.5" fill="#bcc0da"/>
<text transform="translate(24.3 559.53) scale(0.87 1)" font-size="7.0" text-anchor="start" fill="#2a2c4a"  stroke="#2a2c4a" stroke-width="0.1">T-cell receptor and co-stimulatory signaling</text>
<rect x="21.3" y="565.85" width="142.7" height="9.5" fill="#bcc0da"/>
<text transform="translate(24.3 572.7) scale(0.87 1)" font-size="7.0" text-anchor="start" fill="#2a2c4a"  stroke="#2a2c4a" stroke-width="0.1">CD8+ T-cell activation</text>
<rect x="21.3" y="579.02" width="134.1" height="9.5" fill="#bcc0da"/>
<text transform="translate(24.3 585.87) scale(0.87 1)" font-size="7.0" text-anchor="start" fill="#2a2c4a"  stroke="#2a2c4a" stroke-width="0.1">Regulation of T cell differentiation</text>
<rect x="21.3" y="592.19" width="117.7" height="9.5" fill="#bcc0da"/>
<text transform="translate(24.3 599.0400000000001) scale(0.87 1)" font-size="7.0" text-anchor="start" fill="#2a2c4a"  stroke="#2a2c4a" stroke-width="0.1">Modulators of TCR signaling and T cell activation</text>
<rect x="21.3" y="605.36" width="115.89999999999999" height="9.5" fill="#bcc0da"/>
<text transform="translate(24.3 612.21) scale(0.87 1)" font-size="7.0" text-anchor="start" fill="#2a2c4a"  stroke="#2a2c4a" stroke-width="0.1">Gamma-delta T cell receptor complex</text>
<rect x="21.3" y="618.53" width="22.400000000000002" height="9.5" fill="#bcc0da"/>
<text transform="translate(24.3 625.38) scale(0.87 1)" font-size="7.0" text-anchor="start" fill="#2a2c4a"  stroke="#2a2c4a" stroke-width="0.1">Adaptive Immune System</text>
<path d="M18.7 500 V630.8 H248.0" fill="none" stroke="#5e5e5e" stroke-width="1.4" stroke-linejoin="round"/>
<text x="21.3" y="640.1" font-size="8" text-anchor="middle" fill="#222"  stroke="#222" stroke-width="0.1">0</text>
<text x="78.0" y="640.1" font-size="8" text-anchor="middle" fill="#222"  stroke="#222" stroke-width="0.1">5</text>
<text x="134.70000000000002" y="640.1" font-size="8" text-anchor="middle" fill="#222"  stroke="#222" stroke-width="0.1">10</text>
<text x="191.40000000000003" y="640.1" font-size="8" text-anchor="middle" fill="#222"  stroke="#222" stroke-width="0.1">15</text>
<text x="248.10000000000002" y="640.1" font-size="8" text-anchor="middle" fill="#222"  stroke="#222" stroke-width="0.1">20</text>
<text transform="translate(134.70000000000002,652.8) scale(0.72,1)" x="0" y="0" font-size="9" text-anchor="middle" fill="#222" stroke="#222" stroke-width="0.45">Odds ratio</text>
<text x="267.0" y="485.2" font-size="11" text-anchor="start" fill="#111" font-weight="bold">D</text>
<text x="394.8" y="495" font-size="7.7" text-anchor="middle" fill="#222"  stroke="#222" stroke-width="0.1">Pathway</text>
<rect x="281.3" y="500.0" width="179.89999999999998" height="9.5" fill="#efbdb3"/>
<text transform="translate(284.3 506.85) scale(0.87 1)" font-size="7.0" text-anchor="start" fill="#3a2a2c"  stroke="#3a2a2c" stroke-width="0.1">Defense response to fungus</text>
<rect x="281.3" y="513.17" width="157.89999999999998" height="9.5" fill="#efbdb3"/>
<text transform="translate(284.3 520.02) scale(0.87 1)" font-size="7.0" text-anchor="start" fill="#3a2a2c"  stroke="#3a2a2c" stroke-width="0.1">Superoxide anion generation</text>
<rect x="281.3" y="526.34" width="105.0" height="9.5" fill="#efbdb3"/>
<text transform="translate(284.3 533.19) scale(0.87 1)" font-size="7.0" text-anchor="start" fill="#3a2a2c"  stroke="#3a2a2c" stroke-width="0.1">Neutrophil degranulation via FPR1 Signaling</text>
<rect x="281.3" y="539.51" width="70.69999999999999" height="9.5" fill="#efbdb3"/>
<text transform="translate(284.3 546.36) scale(0.87 1)" font-size="7.0" text-anchor="start" fill="#3a2a2c"  stroke="#3a2a2c" stroke-width="0.1">Starch and sucrose metabolism</text>
<rect x="281.3" y="552.68" width="61.099999999999966" height="9.5" fill="#efbdb3"/>
<text transform="translate(284.3 559.53) scale(0.87 1)" font-size="7.0" text-anchor="start" fill="#3a2a2c"  stroke="#3a2a2c" stroke-width="0.1">Neutrophil activation via adherence on endothelial cells</text>
<rect x="281.3" y="565.85" width="56.30000000000001" height="9.5" fill="#efbdb3"/>
<text transform="translate(284.3 572.7) scale(0.87 1)" font-size="7.0" text-anchor="start" fill="#3a2a2c"  stroke="#3a2a2c" stroke-width="0.1">Myeloid derived suppressor cells in cancer immune escape</text>
<rect x="281.3" y="579.02" width="54.099999999999966" height="9.5" fill="#efbdb3"/>
<text transform="translate(284.3 585.87) scale(0.87 1)" font-size="7.0" text-anchor="start" fill="#3a2a2c"  stroke="#3a2a2c" stroke-width="0.1">Tumor infiltrating macrophages in cancer progression and immune escape</text>
<rect x="281.3" y="592.19" width="51.69999999999999" height="9.5" fill="#efbdb3"/>
<text transform="translate(284.3 599.0400000000001) scale(0.87 1)" font-size="7.0" text-anchor="start" fill="#3a2a2c"  stroke="#3a2a2c" stroke-width="0.1">Carbohydrate digestion and absorption</text>
<rect x="281.3" y="605.36" width="33.5" height="9.5" fill="#efbdb3"/>
<text transform="translate(284.3 612.21) scale(0.87 1)" font-size="7.0" text-anchor="start" fill="#3a2a2c"  stroke="#3a2a2c" stroke-width="0.1">Innate immune response</text>
<rect x="281.3" y="618.53" width="31.599999999999966" height="9.5" fill="#efbdb3"/>
<text transform="translate(284.3 625.38) scale(0.87 1)" font-size="7.0" text-anchor="start" fill="#3a2a2c"  stroke="#3a2a2c" stroke-width="0.1">Leukocyte transendothelial migration</text>
<path d="M278.3 500 V630.8 H508.0" fill="none" stroke="#5e5e5e" stroke-width="1.4" stroke-linejoin="round"/>
<text x="281.3" y="640.1" font-size="8" text-anchor="middle" fill="#222"  stroke="#222" stroke-width="0.1">0</text>
<text x="338.0" y="640.1" font-size="8" text-anchor="middle" fill="#222"  stroke="#222" stroke-width="0.1">5</text>
<text x="394.70000000000005" y="640.1" font-size="8" text-anchor="middle" fill="#222"  stroke="#222" stroke-width="0.1">10</text>
<text x="451.40000000000003" y="640.1" font-size="8" text-anchor="middle" fill="#222"  stroke="#222" stroke-width="0.1">15</text>
<text x="508.1" y="640.1" font-size="8" text-anchor="middle" fill="#222"  stroke="#222" stroke-width="0.1">20</text>
<text transform="translate(394.70000000000005,652.8) scale(0.72,1)" x="0" y="0" font-size="9" text-anchor="middle" fill="#222" stroke="#222" stroke-width="0.45">Odds ratio</text>
</svg>
</body></html>
